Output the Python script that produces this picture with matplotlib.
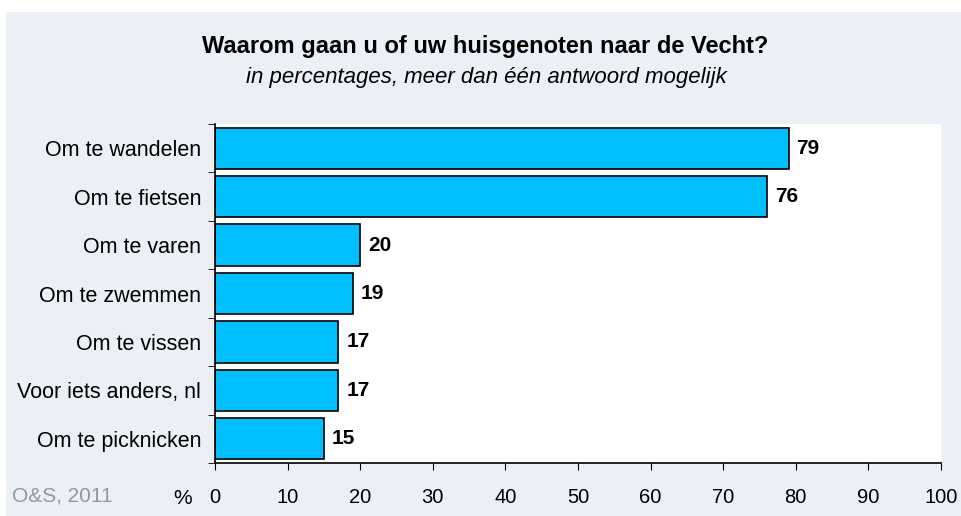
import matplotlib.pyplot as plt
from matplotlib.patches import Rectangle

plt.rcParams['font.family'] = ['Liberation Sans', 'DejaVu Sans']

# data
categorieen = ['Om te wandelen', 'Om te fietsen', 'Om te varen', 'Om te zwemmen',
               'Om te vissen', 'Voor iets anders, nl', 'Om te picknicken']
waarden = [79, 76, 20, 19, 17, 17, 15]
xticks = [0, 10, 20, 30, 40, 50, 60, 70, 80, 90, 100]

fig = plt.figure(figsize=(9.61, 5.16), dpi=100)
fig.patch.set_facecolor('white')
# lichte achtergrond
fig.patches.append(Rectangle((6 / 961, 0), 1, 1 - 12 / 516, transform=fig.transFigure,
                             facecolor='#eceff6', edgecolor='none', zorder=-10))

ax = fig.add_axes([215 / 961, 1 - 463 / 516, (941 - 215) / 961, (463 - 124) / 516])
ax.set_facecolor('white')

y = list(range(len(categorieen)))
ax.barh(y, waarden, height=0.85, color='#00bfff', edgecolor='black', linewidth=1.2)
for yi, v in zip(y, waarden):
    ax.text(v + 1.1, yi, str(v), va='center', ha='left', fontsize=15, fontweight='bold')

ax.set_xlim(0, 100)
ax.set_ylim(len(categorieen) - 0.5, -0.5)
ax.set_xticks(xticks)
ax.set_xticklabels([str(t) for t in xticks], fontsize=14.5)
ax.set_yticks(y)
ax.set_yticklabels(categorieen, fontsize=15.5)
# tickjes tussen de categorieen
ax.set_yticks([i - 0.5 for i in range(len(categorieen) + 1)], minor=True)
ax.tick_params(axis='y', which='major', length=0, pad=10)
ax.tick_params(axis='y', which='minor', length=5, direction='out')
ax.tick_params(axis='x', length=5, direction='out', pad=13)
for s in ['top', 'right']:
    ax.spines[s].set_visible(False)
ax.spines['left'].set_linewidth(1.2)
ax.spines['bottom'].set_linewidth(1.2)

fig.text(485 / 961, 1 - 46 / 516, 'Waarom gaan u of uw huisgenoten naar de Vecht?',
         ha='center', va='center', fontsize=17, fontweight='bold')
fig.text(486 / 961, 1 - 78 / 516, 'in percentages, meer dan één antwoord mogelijk',
         ha='center', va='center', fontsize=16, style='italic')
fig.text(12 / 961, 1 - 496 / 516, 'O&S, 2011', ha='left', va='center', fontsize=15,
         color='#8c9aa6')
fig.text(183 / 961, 1 - 498 / 516, '%', ha='center', va='center', fontsize=15)

fig.savefig('out.png', dpi=100)
